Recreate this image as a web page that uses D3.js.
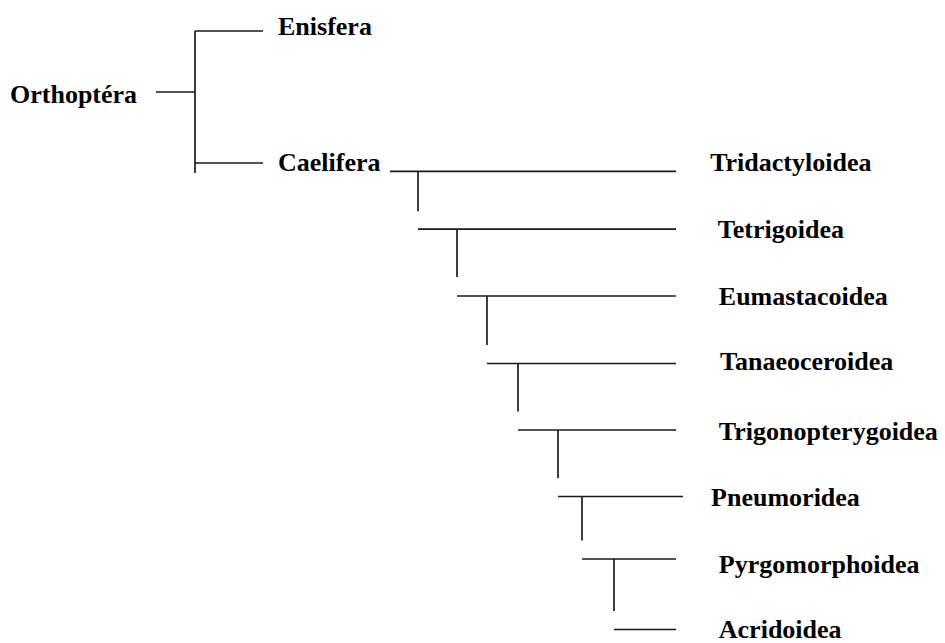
<!DOCTYPE html>
<html>
<head>
<meta charset="utf-8">
<script src="https://cdn.jsdelivr.net/npm/d3@7"></script>
<style>
  html, body { margin: 0; padding: 0; background: #fff; }
  text { font-family: "Liberation Serif", "Times New Roman", serif; font-weight: bold; font-size: 26px; fill: #000; }
</style>
</head>
<body>
<div id="tree"></div>
<script>
// top level split (depth units: root node = 0, tips = 10; rows: Enisfera = 0)
const rootName = "Orthoptéra";
const rootStem = [-0.81, 0];
const rootRow = 0.917;
const rootSpan = [0, 2.135];
const suborders = ["Enisfera", "Caelifera"];
const suborderRow = [0, 1.985];
const suborderEnd = [1.414, 1.414];
const suborderLabelDepth = [1.726, 1.726];
const suborderLabelRow = [0.06, 2.105];
const rootLabelDepth = -3.846;
const rootLabelRow = 1.087;

// Caelifera superfamilies
const taxa = [
  "Tridactyloidea",
  "Tetrigoidea",
  "Eumastacoidea",
  "Tanaeoceroidea",
  "Trigonopterygoidea",
  "Pneumoridea",
  "Pyrgomorphoidea",
  "Acridoidea",
];
const taxonRow = [2.11, 2.98, 3.985, 5.0, 6.0, 7.0, 7.94, 9.0];
const branchStart = [4.054, 4.636, 5.447, 6.07, 6.715, 7.547, 8.046, 8.711];
const branchEnd = [10, 10, 10, 10, 10, 10.146, 10, 10];
// each node hangs down from a branch toward the next one
const nodeDepth = [4.636, 5.447, 6.07, 6.715, 7.547, 8.046, 8.711];
const nodeDrop = [2.71, 3.7, 4.72, 5.72, 6.72, 7.66, 8.72];
const labelDepth = [10.71, 10.87, 10.89, 10.915, 10.89, 10.73, 10.89, 10.89];
const labelRow = [2.1, 3.117, 4.12, 5.1, 6.15, 7.15, 8.155, 9.13];

const width = 945;
const height = 643;

const xScale = d3.scaleLinear().domain([0, 10]).range([195, 676]);
const yScale = d3.scaleLinear().domain([0, 9]).range([31, 629.5]);

const svg = d3
  .select("#tree")
  .append("svg")
  .attr("width", width)
  .attr("height", height);

const lines = svg
  .append("g")
  .attr("stroke", "#1a1a1a")
  .attr("stroke-width", 1.7)
  .attr("fill", "none");

const addLine = (x1, y1, x2, y2) => {
  lines
    .append("line")
    .attr("x1", xScale(x1))
    .attr("y1", yScale(y1))
    .attr("x2", xScale(x2))
    .attr("y2", yScale(y2));
};

// Orthoptera stem and fork
addLine(rootStem[0], rootRow, rootStem[1], rootRow);
addLine(0, rootSpan[0], 0, rootSpan[1]);
suborders.forEach((s, i) => addLine(0, suborderRow[i], suborderEnd[i], suborderRow[i]));

// Caelifera ladder
taxa.forEach((t, i) => addLine(branchStart[i], taxonRow[i], branchEnd[i], taxonRow[i]));
nodeDepth.forEach((d, i) => addLine(d, taxonRow[i], d, nodeDrop[i]));

// labels
svg
  .append("text")
  .attr("x", xScale(rootLabelDepth))
  .attr("y", yScale(rootLabelRow))
  .text(rootName);

svg
  .selectAll(".suborder")
  .data(suborders)
  .enter()
  .append("text")
  .attr("class", "suborder")
  .attr("x", (d, i) => xScale(suborderLabelDepth[i]))
  .attr("y", (d, i) => yScale(suborderLabelRow[i]))
  .text((d) => d);

svg
  .selectAll(".taxon")
  .data(taxa)
  .enter()
  .append("text")
  .attr("class", "taxon")
  .attr("x", (d, i) => xScale(labelDepth[i]))
  .attr("y", (d, i) => yScale(labelRow[i]))
  .text((d) => d);
</script>
</body>
</html>
